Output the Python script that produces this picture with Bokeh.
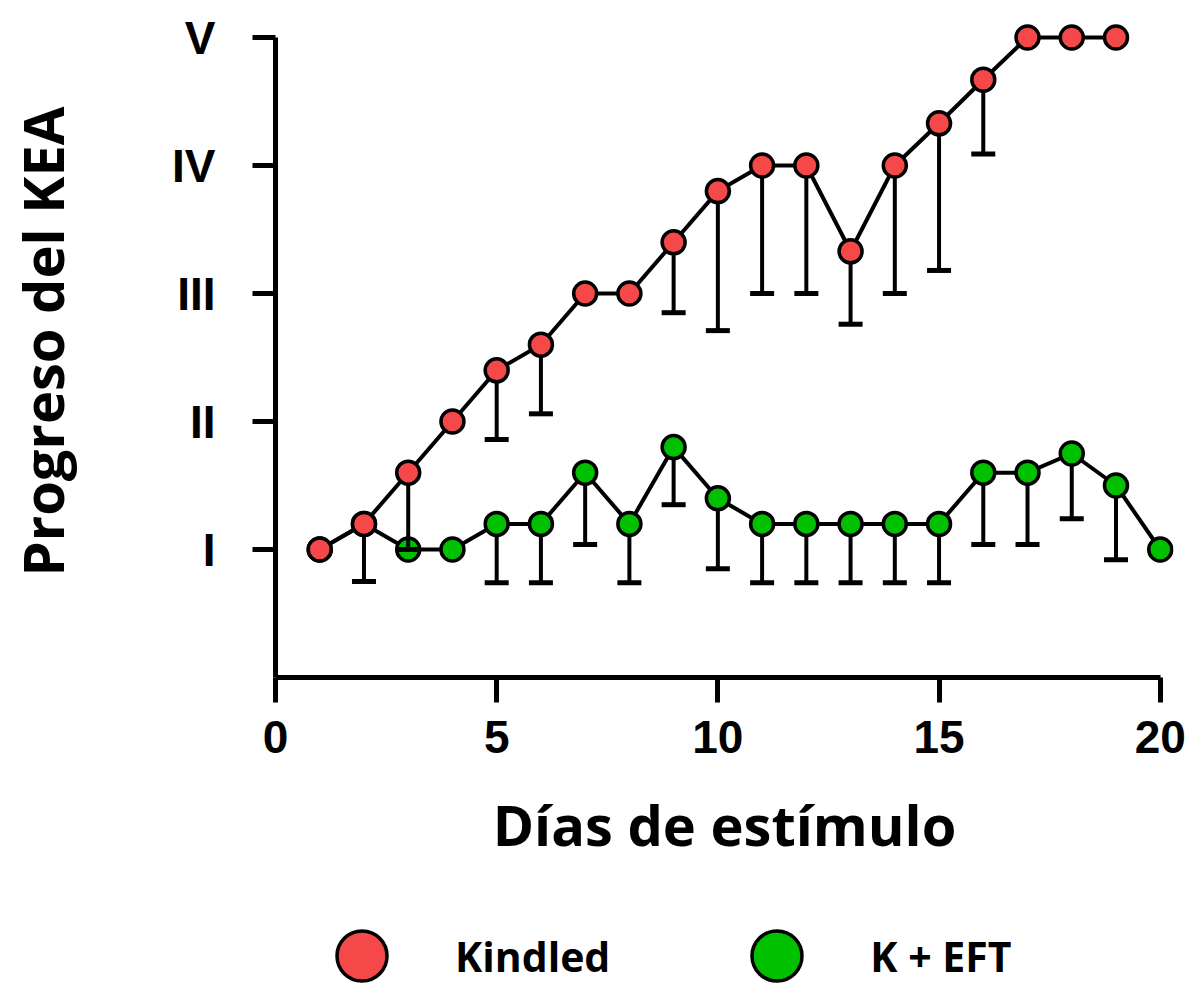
import numpy as np
from bokeh.plotting import figure
from bokeh.layouts import column
from bokeh.models import Range1d, FixedTicker, Legend, LegendItem, ColumnDataSource
from bokeh.embed import file_html
from bokeh.resources import INLINE

nan = float("nan")

# ---- data ----
kindled_days = list(range(1, 20))
kindled_mean = [1.0, 1.2, 1.6, 2.0, 2.4, 2.6, 3.0, 3.0, 3.4, 3.8,
                4.0, 4.0, 3.33, 4.0, 4.33, 4.67, 5.0, 5.0, 5.0]
kindled_lower = [nan, 0.75, 1.0, nan, 1.86, 2.06, nan, nan, 2.85, 2.71,
                 3.0, 3.0, 2.76, 3.0, 3.18, 4.09, nan, nan, nan]

eft_days = list(range(1, 21))
eft_mean = [1.0, 1.2, 1.0, 1.0, 1.2, 1.2, 1.6, 1.2, 1.8, 1.4,
            1.2, 1.2, 1.2, 1.2, 1.2, 1.6, 1.6, 1.75, 1.5, 1.0]
eft_lower = [nan, nan, nan, nan, 0.74, 0.74, 1.04, 0.74, 1.35, 0.85,
             0.74, 0.74, 0.74, 0.74, 0.74, 1.04, 1.04, 1.24, 0.92, nan]

series_names = ["Kindled", "K + EFT"]
series_colors = ["#F54848", "#00C000"]

x_ticks = [0, 5, 10, 15, 20]
y_ticks = [1, 2, 3, 4, 5]
y_tick_labels = ["I", "II", "III", "IV", "V"]

W = 1193
MAIN_H = 882
LEG_H = 983 - MAIN_H

# ---- main figure ----
p = figure(width=W, height=MAIN_H, output_backend="svg", toolbar_location=None,
           x_range=Range1d(0, 20.3), y_range=Range1d(0, 5.25),
           min_border_left=275, min_border_right=20, min_border_top=5,
           min_border_bottom=MAIN_H - 677)
p.outline_line_color = None
p.xgrid.visible = False
p.ygrid.visible = False
p.background_fill_color = "white"
p.border_fill_color = "white"

def add_series(days, mean, lower, color):
    d = np.array(days, dtype=float)
    m = np.array(mean, dtype=float)
    lo = np.array(lower, dtype=float)
    mask = ~np.isnan(lo)
    p.line(d, m, line_color="black", line_width=4)
    err = ColumnDataSource(dict(x=d[mask], lo=lo[mask], m=m[mask]))
    p.segment(x0="x", y0="lo", x1="x", y1="m", source=err, line_color="black", line_width=4)
    p.scatter(x="x", y="lo", source=err, marker="dash", size=24, line_color="black", line_width=5)
    p.scatter(d, m, size=23, fill_color=color, line_color="black", line_width=3.5)

add_series(eft_days, eft_mean, eft_lower, series_colors[1])
add_series(kindled_days, kindled_mean, kindled_lower, series_colors[0])

# ---- axes ----
xa = p.xaxis[0]
xa.ticker = FixedTicker(ticks=x_ticks)
xa.bounds = (0, 20)
xa.axis_line_width = 5
xa.major_tick_line_width = 5
xa.major_tick_out = 25
xa.major_tick_in = 0
xa.minor_tick_line_color = None
xa.major_label_text_font = "Liberation Sans"
xa.major_label_text_font_style = "bold"
xa.major_label_text_font_size = "46px"
xa.major_label_text_color = "black"
xa.major_label_standoff = 18
xa.axis_label = "Días de estímulo"
xa.axis_label_text_font = "Open Sans"
xa.axis_label_text_font_style = "bold"
xa.axis_label_text_font_size = "56px"
xa.axis_label_text_color = "black"
xa.axis_label_standoff = 30

ya = p.yaxis[0]
ya.ticker = FixedTicker(ticks=y_ticks)
ya.major_label_overrides = {t: s for t, s in zip(y_ticks, y_tick_labels)}
ya.bounds = (0, 5)
ya.axis_line_width = 5
ya.major_tick_line_width = 5
ya.major_tick_out = 23
ya.major_tick_in = 0
ya.minor_tick_line_color = None
ya.major_label_text_font = "Liberation Sans"
ya.major_label_text_font_style = "bold"
ya.major_label_text_font_size = "46px"
ya.major_label_text_color = "black"
ya.major_label_standoff = 37
ya.axis_label = "Progreso del KEA"
ya.axis_label_text_font = "Open Sans"
ya.axis_label_text_font_style = "bold"
ya.axis_label_text_font_size = "56px"
ya.axis_label_text_color = "black"
ya.axis_label_standoff = 89

# ---- legend (separate strip below the chart) ----
q = figure(width=W, height=LEG_H, output_backend="svg", toolbar_location=None,
           x_range=Range1d(-3, -2), y_range=Range1d(-3, -2),
           min_border=0, outline_line_color=None)
q.axis.visible = False
q.grid.visible = False
items = []
for name, color, days, mean in zip(series_names, series_colors,
                                   [kindled_days, eft_days], [kindled_mean, eft_mean]):
    r = q.scatter(x=days, y=mean, size=23, fill_color=color, line_color="black", line_width=3.5)
    items.append(LegendItem(label=name, renderers=[r]))
legend = Legend(items=items, location=(24, -35), orientation="horizontal",
                glyph_width=125, glyph_height=125, label_standoff=31,
                spacing=104, padding=0, margin=0,
                label_text_font="Open Sans", label_text_font_style="bold",
                label_text_font_size="41px", label_text_color="black",
                background_fill_alpha=0, border_line_alpha=0)
q.add_layout(legend, "center")

layout = column(p, q, spacing=0)
open("out.html", "w").write(file_html(layout, INLINE))
